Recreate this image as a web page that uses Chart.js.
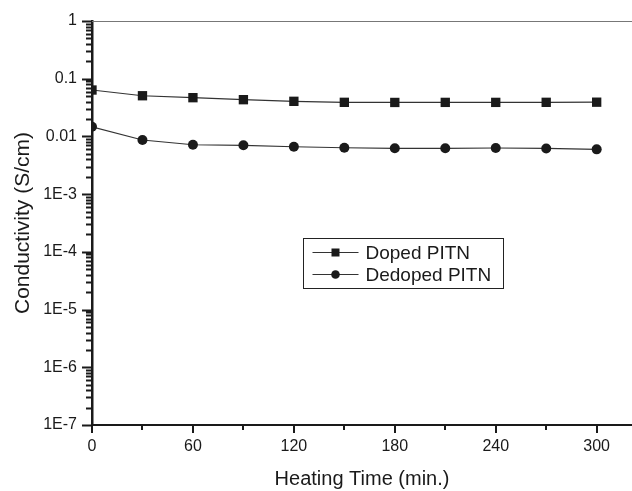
<!DOCTYPE html>
<html>
<head>
    <title>Conductivity vs Heating Time</title>
    <script src="https://cdn.jsdelivr.net/npm/chart.js"></script>
    <style>
        body { margin: 0; background: #fff; }
        canvas { display: block; }
    </style>
</head>
<body>
    <canvas id="condChart" width="632" height="491"></canvas>

    <script>
        // data
        const heatingTime = [0, 30, 60, 90, 120, 150, 180, 210, 240, 270, 300];
        const dopedPITN = [0.0637, 0.0507, 0.0469, 0.0433, 0.0406, 0.0390, 0.0388, 0.0389, 0.0389, 0.0390, 0.0392];
        const dedopedPITN = [0.0147, 0.00867, 0.00718, 0.00701, 0.00663, 0.00637, 0.00622, 0.00622, 0.00630, 0.00620, 0.00597];

        const xTickValues = [0, 30, 60, 90, 120, 150, 180, 210, 240, 270, 300];
        const yTickValues = [1e-7, 1e-6, 1e-5, 1e-4, 1e-3, 0.01, 0.1, 1];
        const yTickLabels = ['1E-7', '1E-6', '1E-5', '1E-4', '1E-3', '0.01', '0.1', '1'];

        const FONT = "'Liberation Sans', Arial, sans-serif";
        const INK = '#1a1a1a';

        // tick marks, top frame line and the boxed legend
        const decorPlugin = {
            id: 'decor',
            afterDraw(chart) {
                const c = chart.ctx;
                const area = chart.chartArea;
                const xs = chart.scales.x, ys = chart.scales.y;
                c.save();
                c.strokeStyle = INK;
                c.lineWidth = 2;
                c.beginPath();
                xTickValues.forEach(v => {
                    const px = Math.round(xs.getPixelForValue(v));
                    const len = v % 60 === 0 ? 8 : 5;
                    c.moveTo(px, area.bottom);
                    c.lineTo(px, area.bottom + len);
                });
                yTickValues.forEach((d, i) => {
                    const py = Math.round(ys.getPixelForValue(d)) + 0.5;
                    c.moveTo(area.left, py);
                    c.lineTo(area.left - 10, py);
                    if (i < yTickValues.length - 1) {
                        for (let m = 2; m <= 9; m++) {
                            const pm = Math.round(ys.getPixelForValue(d * m)) + 0.5;
                            c.moveTo(area.left, pm);
                            c.lineTo(area.left - 6, pm);
                        }
                    }
                });
                c.stroke();

                // thin top line
                c.strokeStyle = '#777';
                c.lineWidth = 1;
                c.beginPath();
                c.moveTo(area.left, area.top + 0.5);
                c.lineTo(area.right, area.top + 0.5);
                c.stroke();

                // legend
                const bx = area.left + 211.5, by = area.top + 217.5, bw = 200, bh = 50;
                c.strokeStyle = '#222';
                c.lineWidth = 1;
                c.strokeRect(bx, by, bw, bh);
                c.font = '19px ' + FONT;
                c.textBaseline = 'middle';
                c.fillStyle = INK;
                chart.data.datasets.forEach((ds, i) => {
                    const cy = by + 14 + i * 22;
                    c.strokeStyle = ds.borderColor;
                    c.lineWidth = 1.2;
                    c.beginPath();
                    c.moveTo(bx + 9, cy);
                    c.lineTo(bx + 55, cy);
                    c.stroke();
                    c.fillStyle = INK;
                    if (ds.pointStyle === 'rect') {
                        c.fillRect(bx + 28, cy - 4, 8, 8);
                    } else {
                        c.beginPath();
                        c.arc(bx + 32, cy, 4.3, 0, Math.PI * 2);
                        c.fill();
                    }
                    c.fillText(ds.label, bx + 62, cy + 1);
                });
                c.restore();
            }
        };

        const ctx = document.getElementById('condChart').getContext('2d');
        const chart = new Chart(ctx, {
            type: 'line',
            data: {
                labels: heatingTime,
                datasets: [{
                    label: 'Doped PITN',
                    data: heatingTime.map((t, i) => ({ x: t, y: dopedPITN[i] })),
                    borderColor: '#333',
                    borderWidth: 1.2,
                    backgroundColor: INK,
                    pointStyle: 'rect',
                    pointRadius: 6.6,
                    pointBorderWidth: 0,
                    tension: 0,
                    clip: { left: 0, top: false, right: false, bottom: false }
                }, {
                    label: 'Dedoped PITN',
                    data: heatingTime.map((t, i) => ({ x: t, y: dedopedPITN[i] })),
                    borderColor: '#333',
                    borderWidth: 1.2,
                    backgroundColor: INK,
                    pointStyle: 'circle',
                    pointRadius: 5,
                    pointBorderWidth: 0,
                    tension: 0,
                    clip: { left: 0, top: false, right: false, bottom: false }
                }]
            },
            options: {
                responsive: false,
                animation: false,
                layout: { autoPadding: false, padding: { top: 21, left: 0, right: 0, bottom: 0 } },
                plugins: {
                    legend: { display: false },
                    tooltip: { enabled: false }
                },
                scales: {
                    x: {
                        type: 'linear',
                        min: 0,
                        max: 321,
                        afterBuildTicks: s => { s.ticks = xTickValues.map(v => ({ value: v })); },
                        afterFit: s => { s.height = 66; s.paddingLeft = 0; s.paddingRight = 0; },
                        grid: { display: false, drawTicks: false },
                        border: { display: true, color: INK, width: 2 },
                        ticks: {
                            autoSkip: false,
                            maxRotation: 0,
                            padding: 12,
                            color: INK,
                            font: { family: FONT, size: 16 },
                            callback: v => (v % 60 === 0 ? String(v) : '')
                        },
                        title: {
                            display: true,
                            text: 'Heating Time (min.)',
                            color: INK,
                            font: { family: FONT, size: 20 },
                            padding: { top: 0, bottom: 0 }
                        }
                    },
                    y: {
                        type: 'logarithmic',
                        min: 1e-7,
                        max: 1,
                        afterBuildTicks: s => { s.ticks = yTickValues.map(v => ({ value: v, major: true })); },
                        afterFit: s => { s.width = 92; s.paddingTop = 0; s.paddingBottom = 0; },
                        grid: { display: false, drawTicks: false },
                        border: { display: true, color: INK, width: 2.5 },
                        ticks: {
                            autoSkip: false,
                            padding: 15,
                            color: INK,
                            font: { family: FONT, size: 16 },
                            callback: (v, i) => yTickLabels[i]
                        },
                        title: {
                            display: true,
                            text: 'Conductivity (S/cm)',
                            color: INK,
                            font: { family: FONT, size: 21 },
                            padding: { top: 11, bottom: 0 }
                        }
                    }
                }
            },
            plugins: [decorPlugin]
        });
    </script>
</body>
</html>
